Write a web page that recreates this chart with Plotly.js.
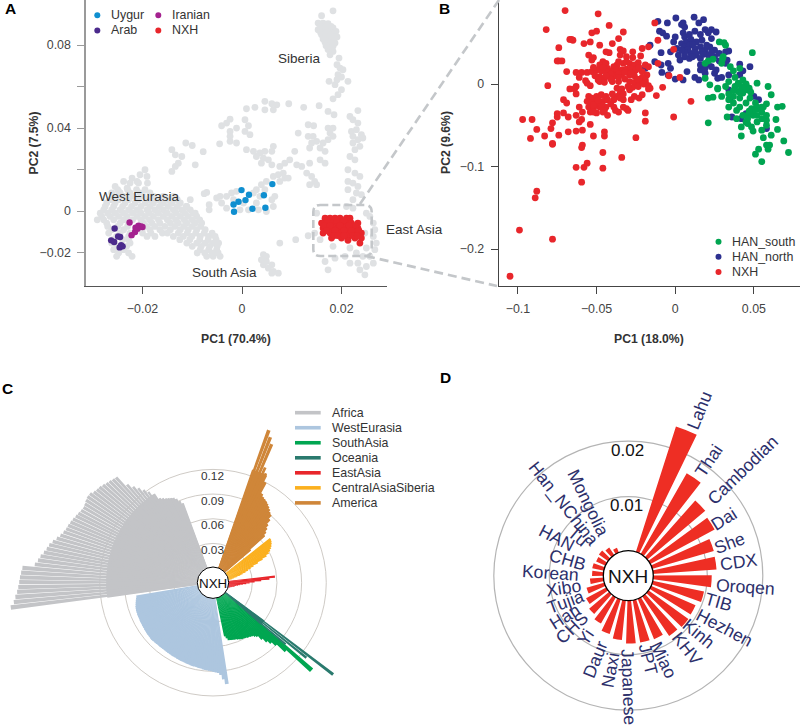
<!DOCTYPE html>
<html><head><meta charset="utf-8">
<script src="https://cdn.plot.ly/plotly-3.0.1.min.js"></script>
<style>html,body{margin:0;padding:0;background:#fff}#wrap{width:800px;height:726px;overflow:hidden}#plot{width:800px;height:800px}</style>
</head><body><div id="wrap"><div id="plot"></div></div>
<script>
// ---------- Panel A ----------
const refX=[0.0160,0.0183,0.0153,0.0163,0.0173,0.0183,0.0153,0.0163,0.0173,0.0183,0.0191,0.0160,0.0170,0.0180,0.0167,0.0177,0.0187,0.0173,0.0183,0.0177,
0.0158,0.0169,0.0179,0.0189,0.0158,0.0169,0.0178,0.0187,0.0163,0.0173,0.0183,0.0169,
0.0195,0.0191,0.0197,0.0203,0.0193,0.0200,0.0175,0.0187,0.0191,0.0213,0.0200,0.0193,0.0183,
0.0046,0.0060,0.0070,0.0063,0.0046,0.0009,0.0026,0.0094,0.0124,0.0155,0.0173,0.0185,0.0233,0.0217,-0.0024,-0.0041,-0.0031,-0.0011,0.0006,0.0013,-0.0024,0.0006,0.0016,0.0133,0.0144,0.0113,0.0133,0.0143,0.0173,0.0183,0.0177,0.0183,0.0173,0.0163,0.0150,0.0140,0.0136,0.0157,0.0167,
0.0223,0.0233,0.0220,0.0230,0.0240,0.0223,0.0233,0.0243,0.0223,0.0237,0.0227,0.0217,0.0227,0.0213,0.0227,0.0237,0.0213,0.0223,0.0233,0.0213,0.0230,0.0240,0.0223,
-0.0024,-0.0011,-0.0045,-0.0024,-0.0141,-0.0134,-0.0121,-0.0113,-0.0100,-0.0078,-0.0128,-0.0134,-0.0141,-0.0094,0.0063,0.0060,0.0046,0.0036,0.0029,0.0043,0.0053,0.0039,0.0060,0.0009,0.0023,0.0106,0.0096,0.0086,0.0110,0.0120,0.0136,0.0157,0.0167,0.0130,0.0140,0.0146,0.0136,0.0150,0.0076,0.0083,0.0073,0.0063,0.0086,0.0076,0.0049,0.0039,0.0029,0.0093,
-0.0051,-0.0041,-0.0031,-0.0021,-0.0011,-0.0044,0.0023,0.0036,0.0046,0.0060,0.0063,-0.0017,0.0003,0.0029,0.0013,0.0033,0.0049,-0.0004,-0.0031,0.0066,-0.0071,-0.0076,-0.0066,-0.0066,-0.0104,-0.0111,-0.0094,
-0.0255,-0.0238,-0.0221,-0.0205,-0.0195,-0.0191,-0.0211,-0.0231,-0.0248,
-0.0258,-0.0238,-0.0218,-0.0198,-0.0178,-0.0158,-0.0138,
-0.0272,-0.0255,-0.0235,-0.0215,-0.0195,-0.0178,-0.0158,-0.0141,-0.0124,
-0.0278,-0.0262,-0.0245,-0.0228,-0.0211,-0.0191,-0.0175,-0.0158,-0.0138,-0.0121,-0.0104,
-0.0282,-0.0265,-0.0248,-0.0231,-0.0211,-0.0195,-0.0178,-0.0158,-0.0141,-0.0124,-0.0108,-0.0091,
-0.0272,-0.0245,-0.0228,-0.0198,-0.0181,-0.0165,-0.0144,-0.0128,-0.0111,-0.0094,-0.0081,
-0.0262,-0.0238,-0.0201,-0.0185,-0.0165,-0.0144,-0.0124,-0.0108,-0.0091,-0.0074,
-0.0252,-0.0228,-0.0191,-0.0175,-0.0138,-0.0118,-0.0101,-0.0084,-0.0067,-0.0054,
-0.0262,-0.0225,-0.0111,-0.0091,-0.0074,-0.0058,-0.0047,
-0.0258,-0.0238,-0.0084,-0.0067,-0.0051,
-0.0252,-0.0221,-0.0071,-0.0058,-0.0044,-0.0291,
-0.0265,-0.0248,-0.0228,-0.0208,-0.0188,-0.0168,-0.0148,-0.0130,
-0.0275,-0.0258,-0.0240,-0.0222,-0.0203,-0.0185,-0.0166,-0.0148,-0.0130,-0.0112,
-0.0285,-0.0270,-0.0255,-0.0238,-0.0220,-0.0203,-0.0186,-0.0168,-0.0150,-0.0132,-0.0115,-0.0098,
-0.0278,-0.0258,-0.0238,-0.0220,-0.0203,-0.0186,-0.0168,-0.0150,-0.0133,-0.0116,-0.0100,-0.0085,
-0.0270,-0.0250,-0.0230,-0.0210,-0.0192,-0.0175,-0.0155,-0.0135,-0.0117,-0.0100,-0.0083,
-0.0268,-0.0245,-0.0225,-0.0200,-0.0183,-0.0160,-0.0150,-0.0128,-0.0110,-0.0093,-0.0076,-0.0060,
-0.0260,-0.0240,-0.0228,-0.0125,-0.0105,-0.0085,-0.0068,-0.0052,
-0.0250,-0.0232,-0.0100,-0.0082,-0.0065,-0.0050,
-0.0248,-0.0228,-0.0090,-0.0075,-0.0060,-0.0048,
-0.0250,-0.0230,-0.0212,-0.0195,-0.0225,-0.0208,-0.0190,-0.0262,-0.0245,-0.0225,-0.0205,-0.0185,
0.0043,0.0049,0.0039,0.0049,0.0060,0.0043,0.0053,0.0063,0.0073,0.0060,0.0076,0.0108,0.0133,
0.0257,0.0264,0.0267,0.0264,0.0270,0.0267,0.0257,0.0264,0.0247,0.0250,0.0233,0.0217,0.0243,0.0187,0.0167,0.0173,0.0230,0.0237,0.0207,0.0250,0.0223,0.0210,0.0150,0.0146,0.0157,0.0183,0.0217,0.0247,0.0250];
const refY=[0.0941,0.0965,0.0906,0.0906,0.0903,0.0882,0.0874,0.0874,0.0871,0.0858,0.0839,0.0850,0.0839,0.0829,0.0813,0.0802,0.0810,0.0778,0.0769,0.0753,
0.0890,0.0887,0.0890,0.0866,0.0861,0.0858,0.0850,0.0839,0.0829,0.0818,0.0794,0.0797,
0.0737,0.0705,0.0689,0.0681,0.0657,0.0646,0.0625,0.0609,0.0633,0.0625,0.0585,0.0561,0.0541,
0.0529,0.0517,0.0512,0.0488,0.0488,0.0493,0.0500,0.0517,0.0500,0.0508,0.0480,0.0464,0.0484,0.0456,0.0443,0.0411,0.0424,0.0400,0.0440,0.0411,0.0384,0.0384,0.0368,0.0416,0.0411,0.0376,0.0360,0.0360,0.0400,0.0400,0.0376,0.0360,0.0344,0.0328,0.0336,0.0328,0.0304,0.0304,0.0288,
0.0440,0.0424,0.0384,0.0392,0.0368,0.0360,0.0344,0.0352,0.0328,0.0312,0.0296,0.0263,0.0247,0.0199,0.0183,0.0167,0.0143,0.0135,0.0119,0.0103,0.0087,0.0079,0.0055,
0.0360,0.0328,0.0324,0.0336,0.0296,0.0271,0.0263,0.0328,0.0316,0.0286,0.0231,0.0215,0.0191,0.0223,0.0312,0.0288,0.0288,0.0280,0.0263,0.0255,0.0247,0.0231,0.0223,0.0296,0.0288,0.0288,0.0247,0.0231,0.0223,0.0215,0.0231,0.0247,0.0231,0.0183,0.0167,0.0143,0.0127,0.0127,0.0215,0.0183,0.0175,0.0167,0.0159,0.0143,0.0143,0.0127,0.0103,0.0159,
0.0063,0.0039,0.0071,0.0087,0.0095,0.0071,0.0087,0.0071,0.0103,0.0055,0.0022,0.0055,0.0039,0.0039,0.0006,0.0006,-0.0002,0.0006,0.0014,0.0071,0.0090,0.0084,0.0031,0.0006,0.0055,0.0022,-0.0010,
0.0119,0.0143,0.0159,0.0175,0.0199,0.0167,0.0143,0.0111,0.0095,
0.0071,0.0071,0.0071,0.0071,0.0071,0.0071,0.0071,
0.0039,0.0039,0.0039,0.0039,0.0039,0.0039,0.0039,0.0039,0.0039,
0.0006,0.0006,0.0006,0.0006,0.0006,0.0006,0.0006,0.0006,0.0006,0.0006,0.0006,
-0.0026,-0.0026,-0.0026,-0.0026,-0.0026,-0.0026,-0.0026,-0.0026,-0.0026,-0.0026,-0.0026,-0.0026,
-0.0058,-0.0058,-0.0058,-0.0058,-0.0058,-0.0058,-0.0058,-0.0058,-0.0058,-0.0058,-0.0058,
-0.0090,-0.0090,-0.0090,-0.0090,-0.0090,-0.0090,-0.0090,-0.0090,-0.0090,-0.0090,
-0.0122,-0.0122,-0.0122,-0.0122,-0.0122,-0.0122,-0.0122,-0.0122,-0.0122,-0.0122,
-0.0154,-0.0154,-0.0154,-0.0154,-0.0154,-0.0154,-0.0154,
-0.0186,-0.0186,-0.0186,-0.0186,-0.0186,
-0.0218,-0.0218,-0.0218,-0.0218,-0.0218,-0.0042,
0.0055,0.0055,0.0055,0.0055,0.0055,0.0055,0.0055,0.0055,
0.0022,0.0022,0.0022,0.0022,0.0022,0.0022,0.0022,0.0022,0.0022,0.0022,
-0.0010,-0.0010,-0.0010,-0.0010,-0.0010,-0.0010,-0.0010,-0.0010,-0.0010,-0.0010,-0.0010,-0.0010,
-0.0042,-0.0042,-0.0042,-0.0042,-0.0042,-0.0042,-0.0042,-0.0042,-0.0042,-0.0042,-0.0042,-0.0042,
-0.0074,-0.0074,-0.0074,-0.0074,-0.0074,-0.0074,-0.0074,-0.0074,-0.0074,-0.0074,-0.0074,
-0.0106,-0.0106,-0.0106,-0.0106,-0.0106,-0.0106,-0.0106,-0.0106,-0.0106,-0.0106,-0.0106,-0.0106,
-0.0138,-0.0138,-0.0138,-0.0138,-0.0138,-0.0138,-0.0138,-0.0138,
-0.0170,-0.0170,-0.0170,-0.0170,-0.0170,-0.0170,
-0.0202,-0.0202,-0.0202,-0.0202,-0.0202,-0.0202,
0.0103,0.0103,0.0103,0.0103,0.0135,0.0135,0.0135,0.0087,0.0087,0.0087,0.0087,0.0087,
-0.0210,-0.0218,-0.0235,-0.0243,-0.0259,-0.0259,-0.0275,-0.0291,-0.0299,-0.0299,-0.0154,-0.0138,-0.0119,
-0.0026,-0.0058,-0.0090,-0.0122,-0.0154,-0.0186,-0.0218,-0.0251,-0.0307,-0.0267,-0.0251,-0.0251,-0.0218,-0.0227,-0.0243,-0.0283,-0.0202,-0.0283,-0.0218,-0.0178,0.0014,0.0022,-0.0010,-0.0106,-0.0138,-0.0170,-0.0178,-0.0106,-0.0010];
const uygurX=[0.0061,-0.0001,0.0014,0.0007,0.0044,-0.0007,-0.0017,-0.0016,0.0021,0.0047];
const uygurY=[0.0130,0.0101,0.0079,0.0053,0.0076,0.0045,0.0032,-0.0003,0.0011,0.0016];
const arabX=[-0.0256,-0.0249,-0.0245,-0.0263,-0.0257,-0.0246,-0.0240,-0.0243];
const arabY=[-0.0084,-0.0122,-0.0125,-0.0141,-0.0149,-0.0175,-0.0170,-0.0165];
const iranianX=[-0.0226,-0.0214,-0.0208,-0.0200,-0.0203,-0.0215,-0.0222,-0.0210];
const iranianY=[-0.0055,-0.0080,-0.0071,-0.0077,-0.0074,-0.0101,-0.0116,-0.0085];
const nxhAX=[0.0167,0.0177,0.0187,0.0197,0.0210,0.0217,0.0160,0.0170,0.0180,0.0190,0.0200,0.0210,0.0220,0.0233,0.0163,0.0173,0.0183,0.0193,0.0203,0.0213,0.0223,0.0233,0.0163,0.0177,0.0187,0.0197,0.0207,0.0217,0.0227,0.0240,0.0180,0.0200,0.0213,0.0227,0.0240,0.0237,0.0213,
0.0172,0.0190,0.0205,0.0165,0.0177,0.0197,0.0215,0.0228,0.0170,0.0187,0.0205,0.0220,0.0235,0.0185,0.0205,0.0222,0.0232,0.0192];
const nxhAY=[-0.0034,-0.0034,-0.0034,-0.0034,-0.0034,-0.0034,-0.0058,-0.0058,-0.0058,-0.0058,-0.0058,-0.0058,-0.0058,-0.0058,-0.0082,-0.0082,-0.0082,-0.0082,-0.0082,-0.0082,-0.0082,-0.0082,-0.0106,-0.0106,-0.0106,-0.0106,-0.0106,-0.0106,-0.0106,-0.0106,-0.0130,-0.0130,-0.0130,-0.0130,-0.0130,-0.0154,-0.0141,
-0.0046,-0.0046,-0.0046,-0.0070,-0.0070,-0.0070,-0.0070,-0.0070,-0.0094,-0.0094,-0.0094,-0.0094,-0.0094,-0.0118,-0.0118,-0.0118,-0.0118,-0.0118];
// ---------- Panel B ----------
const nxhBX=[-0.105,-0.099,-0.078,-0.088,-0.089,-0.0595,-0.063,-0.058,-0.056,-0.046,-0.046,-0.034,-0.059,-0.0595,-0.025,-0.078,-0.078,-0.092,-0.083,-0.088,-0.074,-0.068,-0.063,-0.059,-0.052,-0.045,-0.045,-0.054,-0.097,-0.091,-0.078,-0.079,-0.075,-0.075,-0.071,-0.068,-0.063,-0.061,-0.059,-0.0595,-0.061,-0.019,-0.019,-0.001,0.010,-0.012,-0.008,0.003,-0.004,-0.001,-0.011,-0.013,-0.070,-0.049,-0.042,-0.082,-0.053,-0.050,-0.033,-0.036,-0.040,-0.048,-0.054,-0.058,-0.065,-0.067,-0.066,-0.074,-0.074,-0.075,-0.072,-0.069,-0.081,-0.067,-0.063,-0.064,-0.063,-0.071,-0.069,-0.057,-0.054,-0.056,
-0.044,-0.042,-0.035,-0.033,-0.027,-0.021,-0.017,-0.035,-0.031,-0.027,-0.022,-0.055,-0.052,-0.053,-0.046,-0.044,-0.048,-0.036,-0.033,-0.031,-0.029,-0.026,-0.0235,-0.019,-0.017,-0.011,-0.037,-0.039,-0.043,
-0.063,-0.0595,-0.056,-0.053,-0.050,-0.047,-0.044,-0.040,-0.037,-0.034,-0.031,-0.028,-0.025,-0.021,-0.018,-0.061,-0.048,-0.045,-0.042,-0.038,-0.034,-0.029,-0.026,-0.021,-0.019,
-0.048,-0.045,-0.040,-0.036,-0.029,-0.026,-0.0225,-0.019,-0.037,-0.034,-0.027,-0.0235,-0.017,-0.016,-0.029,-0.035,-0.026,-0.021,-0.023,-0.028,
-0.055,-0.053,-0.050,-0.047,-0.044,-0.037,-0.033,-0.056,-0.053,-0.050,-0.046,-0.043,-0.039,-0.035,-0.055,-0.052,-0.048,-0.044,-0.039,-0.031,-0.030,-0.054,-0.050,-0.046,-0.043,-0.036,-0.033,-0.050,-0.047,
-0.052,-0.046,-0.041,-0.036,-0.032,-0.023,-0.028,-0.024,-0.020,-0.017,-0.032,-0.036,-0.041,-0.044,-0.051,-0.049,-0.052,-0.047,-0.041,-0.045,-0.038,-0.052,-0.049,-0.040,-0.033,-0.030];
const nxhBY=[-0.233,-0.177,-0.188,-0.130,-0.138,-0.119,-0.101,-0.101,-0.096,-0.102,-0.083,-0.089,-0.074,-0.077,-0.065,-0.073,-0.072,-0.066,-0.063,-0.055,-0.062,-0.058,-0.057,-0.056,-0.063,-0.058,-0.063,-0.049,-0.043,-0.043,-0.047,-0.054,-0.040,-0.036,-0.035,-0.040,-0.038,-0.028,-0.034,-0.043,-0.046,-0.045,-0.035,-0.040,-0.021,-0.014,-0.004,0.008,0.010,0.042,0.053,0.074,0.089,0.085,0.071,0.066,0.062,0.064,0.063,0.055,0.049,0.047,0.051,0.049,0.053,0.054,0.054,0.044,0.028,0.028,0.028,0.015,-0.002,-0.006,-0.003,-0.006,-0.012,-0.019,-0.023,0.004,-0.002,0.001,
0.039,0.038,0.042,0.040,0.039,0.043,0.045,0.035,0.033,0.032,0.034,0.035,0.032,0.029,0.027,0.025,0.023,0.027,0.025,0.027,0.025,0.023,0.026,0.023,0.021,0.025,0.023,0.021,0.019,
0.014,0.014,0.014,0.015,0.017,0.016,0.015,0.015,0.017,0.017,0.018,0.019,0.017,0.015,0.011,0.008,0.009,0.007,0.010,0.010,0.012,0.011,0.010,0.008,0.005,
0.003,0.002,0.003,0.003,0.003,0.002,0.003,0.002,-0.005,-0.006,-0.004,-0.003,-0.006,-0.005,-0.007,-0.011,-0.015,-0.013,-0.017,-0.019,
-0.015,-0.017,-0.015,-0.013,-0.015,-0.015,-0.019,-0.021,-0.023,-0.021,-0.021,-0.019,-0.019,-0.017,-0.028,-0.030,-0.028,-0.028,-0.028,-0.030,-0.032,-0.034,-0.035,-0.034,-0.038,-0.034,-0.028,-0.026,-0.028,
0.020,0.020,0.012,0.012,0.014,0.020,0.013,0.006,0.000,-0.002,0.006,0.008,0.006,0.010,0.010,0.005,-0.025,-0.025,-0.024,-0.032,-0.032,-0.034,-0.020,-0.012,-0.012,-0.003];
const hanNorthX=[-0.011,-0.005,0.0004,0.005,0.012,0.006,0.004,0.018,0.015,0.023,0.026,0.021,0.019,-0.010,-0.008,-0.0055,0,-0.001,0.005,0.006,0.009,0.0125,0.016,0.017,0.023,0.007,0.010,0.0135,0.004,0.006,0.009,0.0125,0.016,0.019,0.022,0.025,0.028,0.032,0.034,-0.009,-0.003,0.002,0.006,0.009,0.0135,0.017,0.021,0.025,0.033,-0.013,-0.009,-0.0045,-0.003,-0.0085,-0.0045,0,0.0075,0.005,0.0125,0.016,0.016,0.023,0.026,0.025,0.019,0.015,0.027,0.0295,0.034,0.041,0.0475,0.043,0.034,0.035,0.050,0.053,0.045,0.042,0.036,0.058,-0.019,-0.016,0.041,0.032,0.016,0.010,0.003,0.001,
0.011,0.008,0.013,0.018,0.020,0.006,0.004,0.011,0.023,0.028,0.021,0.019];
const hanNorthY=[0.076,0.074,0.080,0.074,0.081,0.069,0.072,0.078,0.074,0.066,0.063,0.062,0.066,0.064,0.062,0.058,0.057,0.051,0.062,0.057,0.060,0.064,0.060,0.053,0.055,0.051,0.054,0.051,0.049,0.045,0.047,0.043,0.045,0.041,0.045,0.041,0.037,0.039,0.040,0.038,0.039,0.035,0.033,0.031,0.035,0.039,0.035,0.033,0.029,0.027,0.023,0.025,0.019,0.014,0.011,0.006,0.015,0.005,0.008,0.017,0.023,0.021,0.017,0.013,0.013,0.005,0.007,0.008,0.011,0.024,0.021,0.016,-0.007,-0.017,-0.015,-0.019,-0.036,-0.042,-0.040,-0.054,0.019,0.047,0.011,0.025,0.031,0.037,0.029,0.043,
0.048,0.042,0.038,0.036,0.047,0.038,0.041,0.033,0.038,0.028,0.024,0.019];
const hanSouthX=[0.049,0.028,0.031,0.032,0.0305,0.0295,0.024,0.021,0.019,0.019,0.022,0.021,0.024,0.035,0.037,0.041,0.038,0.052,0.059,0.061,0.058,0.065,0.068,0.064,0.065,0.069,0.072,0.061,0.056,0.060,0.058,0.059,0.053,0.051,0.055,0.042,0.021,0.033,0.027,0.0295,0.034,0.037,0.034,0.039,0.041,0.038,0.040,0.043,0.045,0.042,0.046,0.040,0.043,0.0475,0.051,0.045,0.0485,0.053,0.055,0.052,0.0495,0.046,0.043,0.055,0.058,0.042,0.046,0.0485,0.0495,0.055,0.058,0.041,0.037,0.034,0.032,0.027,0.039,0.056,0.058,0.045,
0.045,0.047,0.043,0.048,0.052,0.050,0.055,0.047,0.041,0.046,0.052,0.030,0.034,0.037];
const hanSouthY=[0.038,0.051,0.050,0.047,0.033,0.025,0.030,0.028,0.025,0.007,-0.001,-0.017,-0.016,0.021,0.016,0.019,0.008,0.001,-0.003,-0.013,-0.024,-0.028,-0.027,-0.043,-0.055,-0.069,-0.083,-0.062,-0.065,-0.074,-0.074,-0.079,-0.079,-0.085,-0.094,-0.063,-0.047,-0.040,-0.006,-0.015,-0.019,-0.023,-0.028,-0.032,-0.028,-0.003,0.001,0.005,-0.001,-0.003,-0.007,-0.009,-0.011,-0.017,-0.023,-0.023,-0.030,-0.030,-0.034,-0.038,-0.038,-0.038,-0.038,-0.042,-0.044,-0.052,-0.048,-0.052,-0.057,-0.056,-0.050,-0.017,-0.015,0.003,-0.003,-0.005,-0.042,-0.028,-0.038,-0.046,
0.000,-0.005,-0.005,-0.010,-0.028,-0.032,-0.028,-0.033,-0.010,-0.042,-0.046,0.030,-0.012,-0.008];
// ---------- Panel C ----------
const regions=['Africa','WestEurasia','SouthAsia','Oceania','EastAsia','CentralAsiaSiberia','America'];
const africa=[.2300,.2256,.2232,.2207,.2191,.2179,.2171,.2159,.2147,.2001,.1968,.1944,.1912,.1887,.1867,.1835,.1798,.1766,.1742,.1725,.1717,.1705,.1693,.1677,.1665,.1652,.1644,.1652,.1665,.1673,.1669,.1644,.1632,.1628,.1612,.1596,.1584,.1571,.1563,.1409,.1341,.1288,.1231,.1179,.1118,.1037,.1017,.0996,.0984,.0972,.0960,.0936,.0895,.0855];
const westEurasia=[.1065,.1004,.0948,.0923,.0915,.0907,.0899,.0895,.0891,.0887,.0883,.0875,.0875,.0871,.0867,.0867,.0863,.0859,.0859,.0855,.0851,.0851,.0846,.0846,.0842,.0842,.0842,.0838,.0838,.0838,.0834,.0834,.0834,.0834,.0834,.0834,.0838,.0838,.0842,.0842,.0838,.0838,.0838,.0834,.0834,.0830,.0830,.0826,.0826,.0826,.0822,.0822,.0822,.0818,.0818,.0814,.0810,.0802,.0794,.0786,.0778,.0770];
const southAsia=[.1426,.1037,.0903,.0842,.0794,.0733,.0672,.0652,.0632,.0624,.0616,.0612,.0603,.0599,.0595,.0591,.0583,.0575,.0567,.0563,.0559,.0555,.0551,.0547,.0518,.0490];
const oceania=[.1661,.1280,.0980];
const eastAsia=[.0579,.0510,.0409,.0328,.0267,.0227,.0186,.0154,.0130,.0105,.0093,.0081,.0065,.0053,.0041,.0032];
const centralAsia=[.0701,.0693,.0680,.0664,.0644,.0620,.0591,.0551,.0490,.0421,.0356,.0316,.0275,.0239,.0198,.0166,.0126,.0085,.0057];
const america=[.1798,.1725,.1652,.1361,.1300,.1199,.1057,.1029,.1017,.1004,.0988,.0968,.0948,.0923,.0907,.0855,.0794,.0753,.0713,.0672,.0429];
const ringsC=[0.03,0.06,0.09,0.12];
// ---------- Panel D ----------
const popD=['Lahu','Thai','Cambodian','Dai','She','CDX','Oroqen','TIB','Hezhen','Kinh','KHV','Miao','JPT','Japanese','Naxi','Daur','Yi','CHS','Han','Tujia','Xibo','Korean','CHB','HAN','Tu','Han_NChina','Mongolia'];
const valD=[.0240,.0170,.0139,.0134,.0118,.0117,.0108,.0097,.0090,.0091,.0089,.0081,.0080,.0080,.0074,.0068,.0057,.0050,.0044,.0036,.0027,.0023,.0024,.0021,.0023,.0019,.0012];
const ringsD=[0.01,0.02];
// label placement for panel D: clearance from the bar tip and angular nudge
const gapD=[4,5,10,0,2,4,5,3,6,0,2,4,3,5,14,10,12,7,12,6,10,13,7,27,17,13,17];
const nudgeD=[1.6,1.2,1.6,1.8,2.6,.9,1.5,.2,.8,-.3,-.6,3.7,.8,1.9,.8,0,1,1.8,-.8,-2.8,-2.8,-1.8,-1.2,-.3,-1.8,-3.8,-2.8];

// ---------- Layout helpers (pixel frame of an 800-tall paper, clipped to 726 by the page) ----------
const W=800,H=800,SANS='"Liberation Sans",Arial,sans-serif';
const fx=p=>p/W, fy=p=>1-p/H;
const TXT='#333333', RED='#e8262b', NAVY='#2c2f6b';
const C={Uygur:'#0f8fd0',Arab:'#4b2a8c',Iranian:'#a4228f',HAN_south:'#00a551',HAN_north:'#2d3190'};
const ann=[], shapes=[];
function label(text,x,y,size,opt){ann.push(Object.assign({text:text,x:fx(x),y:fy(y),xref:'paper',yref:'paper',showarrow:false,xanchor:'center',yanchor:'middle',font:{family:SANS,size:size,color:TXT}},opt||{}));}
function dot(x,y,r,col){shapes.push({type:'circle',xref:'paper',yref:'paper',x0:fx(x-r),x1:fx(x+r),y0:fy(y+r),y1:fy(y-r),fillcolor:col,line:{width:0}});}
function key(x,y,col,text){dot(x,y,3,col);label(text,x+11.5,y,12.4,{xanchor:'left'});}
const pts=(xs,ys,col,xa,ya,size)=>({type:'scatter',mode:'markers',x:xs,y:ys,xaxis:xa,yaxis:ya,marker:{color:col,size:size,line:{width:0}},hoverinfo:'skip',showlegend:false});

const traces=[
 pts(refX,refY,'#dfe1e3','x','y',6.8),
 pts(nxhAX,nxhAY,RED,'x','y',6.8),
 pts(uygurX,uygurY,C.Uygur,'x','y',6.4),
 pts(arabX,arabY,C.Arab,'x','y',6.4),
 pts(iranianX,iranianY,C.Iranian,'x','y',6.4),
 pts(hanNorthX,hanNorthY,C.HAN_north,'x2','y2',6.8),
 pts(hanSouthX,hanSouthY,C.HAN_south,'x2','y2',6.8),
 pts(nxhBX,nxhBY,RED,'x2','y2',6.8)
];
// Panel C bars: [values, first angle, colour, bar width, inner solid radius (bars overlap below it)]
const STEP=1.43;
const groupsC=[[africa,263,'#c3c4c7',1.25,.112],[westEurasia,172.2,'#adc6df',2.1,1],[southAsia,131.6,'#00a651',2.1,1],[oceania,127.4,'#2a7a6e',1.2,.06],[eastAsia,84.5,RED,2.1,1],[centralAsia,52.9,'#fbb01f',2.1,1],[america,20.1,'#cf8639',1.3,.128]];
groupsC.forEach((g,k)=>{
 const th=g[0].map((_,i)=>g[1]+i*STEP);
 traces.push({type:'barpolar',subplot:'polar',name:regions[k],r:g[0],theta:th,width:g[3],marker:{color:g[2],line:{width:0}},hoverinfo:'skip',showlegend:false});
 if(g[4]<1)traces.push({type:'barpolar',subplot:'polar',name:regions[k],r:g[0].map(v=>Math.min(v,g[4])),theta:th,width:2.1,marker:{color:g[2],line:{width:0}},hoverinfo:'skip',showlegend:false});
});
// Panel D bars
const thetaD=popD.map((_,i)=>21.8+i*12);
traces.push({type:'barpolar',subplot:'polar2',r:valD,theta:thetaD,width:8.2,marker:{color:'#ee2e24',line:{width:0}},hoverinfo:'skip',showlegend:false});

// polar geometry
const cC={x:213,y:582.7,R:210,r0:14.6,unit:24.67/0.03};
const cD={x:628.3,y:575.7,R:170,r0:23.5,unit:55.5/0.01};
const polarCfg=(c,ticks,grid,gw)=>({
 domain:{x:[fx(c.x-c.R),fx(c.x+c.R)],y:[fy(c.y+c.R),fy(c.y-c.R)]},
 hole:c.r0/c.R,barmode:'overlay',bgcolor:'rgba(0,0,0,0)',
 radialaxis:{range:[0,(c.R-c.r0)/c.unit],tickvals:ticks,showticklabels:false,ticks:'',showline:false,gridcolor:grid,gridwidth:gw},
 angularaxis:{direction:'clockwise',rotation:90,showgrid:false,showticklabels:false,ticks:'',showline:false}
});

// Panel labels
const bold={font:{family:SANS,size:15.5,color:'#000'}};
label('<b>A</b>',10,9,15.5,bold);
label('<b>B</b>',444,9,15.5,bold);
label('<b>C</b>',7,388,15.5,bold);
label('<b>D</b>',445,378,15.5,bold);
// Axis titles
label('<b>PC1 (70.4%)</b>',236,339,12.2);
label('<b>PC1 (18.0%)</b>',649,339,12.2);
label('<b>PC2 (7.5%)</b>',33.5,143,12.2,{textangle:-90});
label('<b>PC2 (9.6%)</b>',446,143,12.2,{textangle:-90});
// Region names
label('Siberia',299,59,13.5);
label('West Eurasia',139,196,13.5);
label('South Asia',224.5,272,13.5);
label('East Asia',384,229,13.5,{xanchor:'left'});
// Keys
key(97.3,15.3,C.Uygur,'Uygur');key(97.3,30.5,C.Arab,'Arab');key(158.3,15.3,C.Iranian,'Iranian');key(158.3,30.5,RED,'NXH');
key(718.5,241.7,C.HAN_south,'HAN_south');key(718.5,256.7,C.HAN_north,'HAN_north');key(718.5,272,RED,'NXH');
// Zoom frame
const BOX='#c4c7ca';
function pathBox(x0,y0,x1,y1,r){const X=fx,Y=fy;return `M${X(x0+r)},${Y(y0)} L${X(x1-r)},${Y(y0)} Q${X(x1)},${Y(y0)} ${X(x1)},${Y(y0+r)} L${X(x1)},${Y(y1-r)} Q${X(x1)},${Y(y1)} ${X(x1-r)},${Y(y1)} L${X(x0+r)},${Y(y1)} Q${X(x0)},${Y(y1)} ${X(x0)},${Y(y1-r)} L${X(x0)},${Y(y0+r)} Q${X(x0)},${Y(y0)} ${X(x0+r)},${Y(y0)} Z`;}
shapes.push({type:'path',xref:'paper',yref:'paper',path:pathBox(313.3,205,371.7,256,7),line:{color:BOX,width:2.6,dash:'8px,4px'}});
const seg=(a,b,c,d)=>shapes.push({type:'line',xref:'paper',yref:'paper',x0:fx(a),y0:fy(b),x1:fx(c),y1:fy(d),line:{color:BOX,width:2.6,dash:'9px,5px'}});
seg(360,204,499,0);seg(366,256,497,286);
// Keys for C
regions.forEach((n,i)=>{const y=412.7+i*15.03,col=groupsC[i][2];
 shapes.push({type:'line',xref:'paper',yref:'paper',x0:fx(295),x1:fx(320.7),y0:fy(y),y1:fy(y),line:{color:col,width:3.6}});
 label(n,330,y,12.4,{xanchor:'left'});});
// Ring labels C and hub
ringsC.forEach(v=>label(v.toFixed(2),212.7,cC.y-(cC.r0+v*cC.unit)+6.5,11.8));
shapes.push({type:'circle',xref:'paper',yref:'paper',x0:fx(213-15.7),x1:fx(213+15.7),y0:fy(582.7+15.7),y1:fy(582.7-15.7),fillcolor:'#fff',line:{color:'#000',width:1}});
label('NXH',213,583,13.4,{font:{family:SANS,size:13.4,color:'#111'}});
// Ring labels D and hub
label('0.02',627.7,450,17,{font:{family:SANS,size:17,color:'#111'}});
label('0.01',626.7,505,17,{font:{family:SANS,size:17,color:'#111'}});
shapes.push({type:'circle',xref:'paper',yref:'paper',x0:fx(628.3-25),x1:fx(628.3+25),y0:fy(575.7+25),y1:fy(575.7-25),fillcolor:'#fff',line:{color:'#000',width:1.3}});
label('NXH',628.3,576,19,{font:{family:SANS,size:19,color:'#111'}});
// Population labels D, placed outward of each bar
const cv=document.createElement('canvas').getContext('2d');cv.font='17.6px "Liberation Sans"';
popD.forEach((n,i)=>{const th=thetaD[i],rad=(th+nudgeD[i])*Math.PI/180,left=th>180;
 const w=cv.measureText(n).width;
 const rp=cD.r0+valD[i]*cD.unit+gapD[i]+w/2;
 const a=left?th-270:th-90;
 label(n,cD.x+rp*Math.sin(rad),cD.y-rp*Math.cos(rad),17.6,{textangle:a,font:{family:SANS,size:17.6,color:NAVY}});});

const tickFont={family:SANS,size:12.4,color:'#444'};
const axis=(dom,rng,vals,txt,line,lw,opt)=>Object.assign({domain:dom,range:rng,tickmode:'array',tickvals:vals,ticktext:txt,ticks:'outside',ticklen:7,tickwidth:1,tickcolor:line,showgrid:false,zeroline:false,showline:true,linecolor:line,linewidth:lw,tickfont:tickFont,ticklabelstandoff:4},opt||{});
const layout={width:W,height:H,margin:{l:0,r:0,t:0,b:0},paper_bgcolor:'#fff',plot_bgcolor:'rgba(0,0,0,0)',showlegend:false,font:{family:SANS},
 xaxis:axis([fx(86),fx(387)],[-0.03136,0.02915],[-0.02,0,0.02],['\u22120.02','0','0.02'],'#555',1,{anchor:'y'}),
 yaxis:axis([fy(286),1],[-0.0361,0.1017],[-0.02,0,0.02,0.04,0.06,0.08],['\u22120.02','0','','0.04','','0.08'],'#9a9a9a',1.6,{anchor:'x'}),
 xaxis2:axis([fx(498.7),1],[-0.1122,0.0793],[-0.1,-0.05,0,0.05],['\u22120.1','\u22120.05','0','0.05'],'#444',1,{anchor:'y2'}),
 yaxis2:axis([fy(286),1],[-0.2448,0.1018],[-0.2,-0.1,0],['\u22120.2','\u22120.1','0'],'#444',1,{anchor:'x2'}),
 polar:polarCfg(cC,ringsC,'#cfcbc6',1),
 polar2:polarCfg(cD,ringsD,'#b4b4b4',1.2),
 annotations:ann,shapes:shapes};
Plotly.newPlot('plot',traces,layout,{displayModeBar:false,staticPlot:true});
</script></body></html>
